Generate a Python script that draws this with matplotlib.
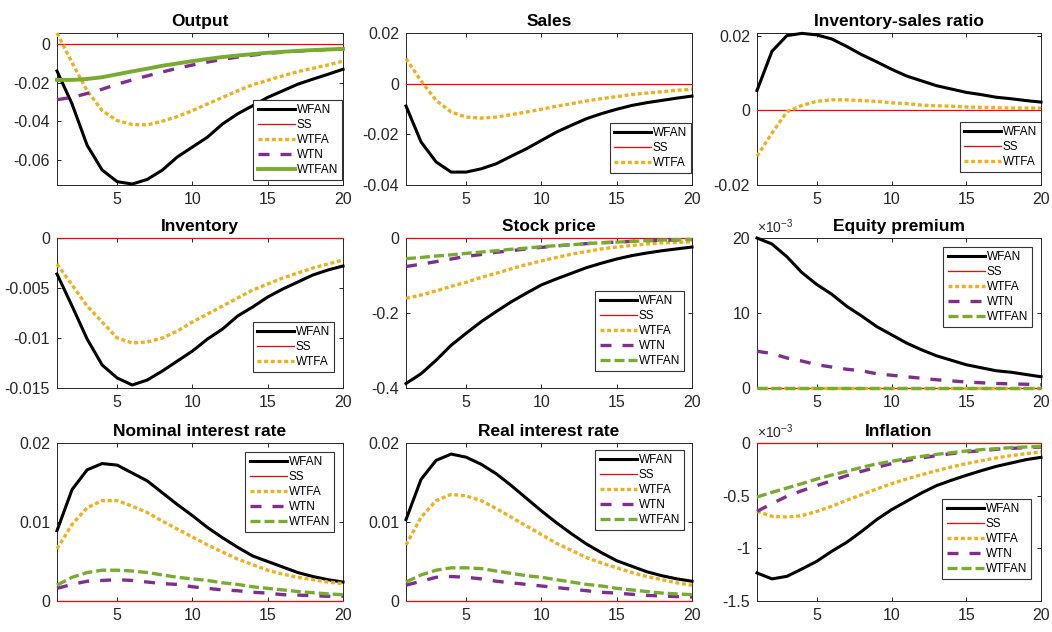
import numpy as np
import matplotlib
matplotlib.use("Agg")
import matplotlib.pyplot as plt

plt.rcParams['font.family'] = ['Liberation Sans', 'DejaVu Sans']
plt.rcParams['mathtext.fontset'] = 'custom'
plt.rcParams['mathtext.rm'] = 'Liberation Sans'

t = np.arange(1, 21)

# ---- data (periods 1..20) ----
output_wfan = [-0.0140, -0.0310, -0.0523, -0.0651, -0.0711, -0.0723, -0.0699, -0.0651, -0.0583, -0.0532,
               -0.0481, -0.0413, -0.0361, -0.0319, -0.0276, -0.0242, -0.0208, -0.0182, -0.0157, -0.0131]
output_wtfa = [0.0056, -0.0097, -0.0242, -0.0344, -0.0396, -0.0416, -0.0418, -0.0399, -0.0375, -0.0344,
               -0.0310, -0.0276, -0.0242, -0.0211, -0.0188, -0.0165, -0.0143, -0.0126, -0.0109, -0.0089]
output_wtn = [-0.0288, -0.0276, -0.0256, -0.0234, -0.0208, -0.0186, -0.0165, -0.0145, -0.0126, -0.0109,
              -0.0094, -0.0080, -0.0068, -0.0058, -0.0049, -0.0043, -0.0038, -0.0032, -0.0029, -0.0026]
output_wtfan = [-0.0186, -0.0186, -0.0181, -0.0172, -0.0157, -0.0142, -0.0128, -0.0113, -0.0101, -0.0089,
                -0.0078, -0.0068, -0.0060, -0.0053, -0.0046, -0.0041, -0.0036, -0.0032, -0.0029, -0.0026]

sales_wfan = [-0.0088, -0.0230, -0.0309, -0.0349, -0.0349, -0.0336, -0.0316, -0.0286, -0.0257, -0.0224,
              -0.0191, -0.0164, -0.0138, -0.0118, -0.0101, -0.0086, -0.0075, -0.0066, -0.0057, -0.0049]
sales_wtfa = [0.0099, 0.0011, -0.0066, -0.0112, -0.0132, -0.0136, -0.0132, -0.0122, -0.0112, -0.0101,
              -0.0089, -0.0079, -0.0068, -0.0059, -0.0051, -0.0043, -0.0037, -0.0032, -0.0026, -0.0022]

isr_wfan = [0.0053, 0.0158, 0.0200, 0.0206, 0.0202, 0.0191, 0.0171, 0.0149, 0.0130, 0.0110,
            0.0092, 0.0079, 0.0066, 0.0057, 0.0048, 0.0042, 0.0035, 0.0031, 0.0026, 0.0022]
isr_wtfa = [-0.0123, -0.0061, -0.0004, 0.0013, 0.0024, 0.0028, 0.0028, 0.0026, 0.0024, 0.0020,
            0.0018, 0.0014, 0.0012, 0.0011, 0.0009, 0.0008, 0.0007, 0.0006, 0.0006, 0.0006]

inv_wfan = [-0.0036, -0.0068, -0.0101, -0.0127, -0.0140, -0.0147, -0.0142, -0.0133, -0.0123, -0.0113,
            -0.0101, -0.0091, -0.0078, -0.0069, -0.0059, -0.0051, -0.0044, -0.0037, -0.0032, -0.0028]
inv_wtfa = [-0.0026, -0.0047, -0.0068, -0.0084, -0.0100, -0.0105, -0.0104, -0.0100, -0.0093, -0.0084,
            -0.0076, -0.0068, -0.0060, -0.0052, -0.0046, -0.0040, -0.0035, -0.0030, -0.0026, -0.0022]

stock_wfan = [-0.388, -0.362, -0.326, -0.286, -0.254, -0.223, -0.196, -0.170, -0.147, -0.125,
              -0.109, -0.094, -0.079, -0.067, -0.056, -0.047, -0.040, -0.034, -0.029, -0.024]
stock_wtfa = [-0.161, -0.152, -0.141, -0.129, -0.118, -0.105, -0.094, -0.082, -0.071, -0.061,
              -0.052, -0.043, -0.036, -0.029, -0.024, -0.020, -0.016, -0.013, -0.012, -0.010]
stock_wtn = [-0.076, -0.070, -0.063, -0.056, -0.049, -0.044, -0.038, -0.034, -0.029, -0.025,
             -0.021, -0.018, -0.015, -0.0125, -0.011, -0.009, -0.007, -0.006, -0.005, -0.0045]
stock_wtfan = [-0.055, -0.052, -0.048, -0.045, -0.041, -0.0375, -0.034, -0.030, -0.027, -0.023,
               -0.0205, -0.018, -0.015, -0.0125, -0.011, -0.009, -0.007, -0.0055, -0.0045, -0.0036]

# equity premium and inflation are in units of 1e-3
eq_wfan = [20.0, 19.2, 17.5, 15.4, 13.8, 12.5, 10.9, 9.6, 8.2, 7.1,
           6.0, 5.1, 4.3, 3.7, 3.1, 2.7, 2.3, 2.1, 1.8, 1.5]
eq_wtfa = [0.0] * 20
eq_wtn = [4.9, 4.6, 4.0, 3.6, 3.1, 2.8, 2.5, 2.3, 1.9, 1.7,
          1.5, 1.3, 1.1, 0.95, 0.8, 0.7, 0.6, 0.55, 0.5, 0.45]
eq_wtfan = [0.0] * 20

nom_wfan = [0.0089, 0.0141, 0.0166, 0.0174, 0.0172, 0.0162, 0.0152, 0.0137, 0.0122, 0.0108,
            0.0093, 0.0080, 0.0068, 0.0057, 0.0050, 0.0043, 0.0036, 0.0031, 0.0027, 0.0024]
nom_wtfa = [0.0066, 0.0097, 0.0118, 0.0127, 0.0127, 0.0120, 0.0112, 0.0101, 0.0091, 0.0081,
            0.0071, 0.0062, 0.0053, 0.0046, 0.0039, 0.0034, 0.0030, 0.0027, 0.0024, 0.0022]
nom_wtn = [0.0016, 0.0021, 0.0025, 0.0026, 0.0027, 0.0026, 0.0024, 0.0022, 0.0021, 0.0018,
           0.0016, 0.0014, 0.0013, 0.0011, 0.0010, 0.0008, 0.00075, 0.00067, 0.0006, 0.0006]
nom_wtfan = [0.0020, 0.0030, 0.0036, 0.0039, 0.0039, 0.0038, 0.0036, 0.0033, 0.0030, 0.0028,
             0.0026, 0.0023, 0.0021, 0.0018, 0.0016, 0.0014, 0.0012, 0.00105, 0.0009, 0.0008]

real_wfan = [0.0103, 0.0154, 0.0178, 0.0186, 0.0182, 0.0173, 0.0161, 0.0146, 0.0130, 0.0114,
             0.0099, 0.0085, 0.0072, 0.0061, 0.0051, 0.0044, 0.0037, 0.0032, 0.0028, 0.0025]
real_wtfa = [0.0071, 0.0106, 0.0127, 0.0135, 0.0133, 0.0127, 0.0117, 0.0106, 0.0095, 0.0084,
             0.0073, 0.0064, 0.0055, 0.0048, 0.0042, 0.0036, 0.0031, 0.0027, 0.0023, 0.0020]
real_wtn = [0.0020, 0.0025, 0.0030, 0.0031, 0.0030, 0.0028, 0.0025, 0.0023, 0.0021, 0.0019,
            0.0017, 0.0015, 0.0013, 0.0011, 0.0010, 0.00085, 0.0007, 0.00064, 0.00055, 0.0005]
real_wtfan = [0.0024, 0.0033, 0.0039, 0.0042, 0.0042, 0.0041, 0.0038, 0.0035, 0.0032, 0.0030,
              0.0027, 0.0024, 0.0021, 0.0019, 0.0016, 0.0014, 0.0012, 0.0010, 0.0009, 0.0008]

infl_wfan = [-1.234, -1.290, -1.266, -1.196, -1.123, -1.028, -0.943, -0.839, -0.728, -0.633,
             -0.554, -0.475, -0.405, -0.354, -0.307, -0.263, -0.222, -0.190, -0.158, -0.136]
infl_wtfa = [-0.649, -0.696, -0.703, -0.690, -0.649, -0.601, -0.544, -0.491, -0.437, -0.386,
             -0.342, -0.301, -0.263, -0.228, -0.196, -0.168, -0.142, -0.120, -0.101, -0.085]
infl_wtn = [-0.649, -0.576, -0.506, -0.453, -0.405, -0.358, -0.310, -0.269, -0.231, -0.196,
            -0.168, -0.142, -0.120, -0.101, -0.085, -0.073, -0.060, -0.051, -0.044, -0.038]
infl_wtfan = [-0.513, -0.468, -0.427, -0.386, -0.342, -0.304, -0.269, -0.231, -0.199, -0.174,
              -0.149, -0.127, -0.108, -0.092, -0.076, -0.063, -0.054, -0.044, -0.038, -0.032]

ss = [0.0] * 20

titles = ["Output", "Sales", "Inventory-sales ratio",
          "Inventory", "Stock price", "Equity premium",
          "Nominal interest rate", "Real interest rate", "Inflation"]

series = [
    {"WFAN": output_wfan, "SS": ss, "WTFA": output_wtfa, "WTN": output_wtn, "WTFAN": output_wtfan},
    {"WFAN": sales_wfan, "SS": ss, "WTFA": sales_wtfa},
    {"WFAN": isr_wfan, "SS": ss, "WTFA": isr_wtfa},
    {"WFAN": inv_wfan, "SS": ss, "WTFA": inv_wtfa},
    {"WFAN": stock_wfan, "SS": ss, "WTFA": stock_wtfa, "WTN": stock_wtn, "WTFAN": stock_wtfan},
    {"WFAN": eq_wfan, "SS": ss, "WTFA": eq_wtfa, "WTN": eq_wtn, "WTFAN": eq_wtfan},
    {"WFAN": nom_wfan, "SS": ss, "WTFA": nom_wtfa, "WTN": nom_wtn, "WTFAN": nom_wtfan},
    {"WFAN": real_wfan, "SS": ss, "WTFA": real_wtfa, "WTN": real_wtn, "WTFAN": real_wtfan},
    {"WFAN": infl_wfan, "SS": ss, "WTFA": infl_wtfa, "WTN": infl_wtn, "WTFAN": infl_wtfan},
]

yticks = [
    [-0.06, -0.04, -0.02, 0], [-0.04, -0.02, 0, 0.02], [-0.02, 0, 0.02],
    [-0.015, -0.01, -0.005, 0], [-0.4, -0.2, 0], [0, 10, 20],
    [0, 0.01, 0.02], [0, 0.01, 0.02], [-1.5, -1, -0.5, 0],
]
ytick_labels = [
    ["-0.06", "-0.04", "-0.02", "0"], ["-0.04", "-0.02", "0", "0.02"], ["-0.02", "0", "0.02"],
    ["-0.015", "-0.01", "-0.005", "0"], ["-0.4", "-0.2", "0"], ["0", "10", "20"],
    ["0", "0.01", "0.02"], ["0", "0.01", "0.02"], ["-1.5", "-1", "-0.5", "0"],
]
scaled = [False, False, False, False, False, True, False, False, True]

# ---- layout / style ----
W, H = 1052, 632
ylims = [(-0.0728, 0.0056), (-0.04, 0.02), (-0.02, 0.0207),
         (-0.015, 0), (-0.4, 0), (0, 20),
         (0, 0.02), (0, 0.02), (-1.5, 0)]
col_lr = [(57, 343), (406, 692), (757, 1041)]
row_tb = [(33, 185), (238, 388), (443, 601)]
legend_anchor = [(342, 100), (691, 123), (1041, 122),
                 (334, 322), (684, 291), (1032, 247),
                 (334, 452), (684, 450), (1031, 499)]

styles = {
    "WFAN": dict(color="black", lw=2.2, ls="-"),
    "SS": dict(color="red", lw=0.9, ls="-"),
    "WTFA": dict(color="#EDB120", lw=2.4, dashes=(1.2, 0.8), dash_capstyle="butt"),
    "WTN": dict(color="#7E2F8E", lw=2.4, dashes=(3.3, 3.3), dash_capstyle="butt"),
    "WTFAN": dict(color="#77AC30", lw=2.4, dashes=(3.0, 1.2), dash_capstyle="butt"),
}

fig = plt.figure(figsize=(W / 100, H / 100), dpi=100)

for i in range(9):
    r, c = divmod(i, 3)
    l, rr = col_lr[c]
    tp, bt = row_tb[r]
    ax = fig.add_axes([l / W, 1 - bt / H, (rr - l) / W, (bt - tp) / H])
    for name, vals in series[i].items():
        st = dict(styles[name])
        if i == 0 and name == "WTFAN":
            st = dict(color="#77AC30", lw=2.8, ls="-")
        ax.plot(t, vals, label=name, zorder=3, clip_on=False, **st)
    ax.set_xlim(1, 20)
    ax.set_ylim(*ylims[i])
    ax.set_xticks([5, 10, 15, 20])
    ax.set_yticks(yticks[i])
    ax.set_yticklabels(ytick_labels[i])
    ax.tick_params(direction="in", top=True, right=True, length=3, width=0.6,
                   labelsize=11.5, labelcolor="#262626", pad=5)
    for sp in ax.spines.values():
        sp.set_linewidth(0.7)
        sp.set_color("#262626")
    ax.set_title(titles[i], fontsize=12.5, fontweight="bold", pad=5)
    if scaled[i]:
        ax.text(0.0, 1.015, r"$\mathregular{\times 10^{-3}}$", transform=ax.transAxes,
                ha="left", va="bottom", fontsize=10, color="#262626")
    ax_x, ax_y = legend_anchor[i]
    leg = ax.legend(loc="upper right", bbox_to_anchor=(ax_x / W, 1 - ax_y / H),
                    bbox_transform=fig.transFigure, fontsize=8.5, frameon=True,
                    fancybox=False, framealpha=1, edgecolor="#333333",
                    handlelength=3.2, handletextpad=0.1, labelspacing=0.25,
                    borderpad=0.35, borderaxespad=0)
    leg.get_frame().set_linewidth(0.8)
    leg.set_zorder(5)

fig.savefig("out.png", dpi=100)
